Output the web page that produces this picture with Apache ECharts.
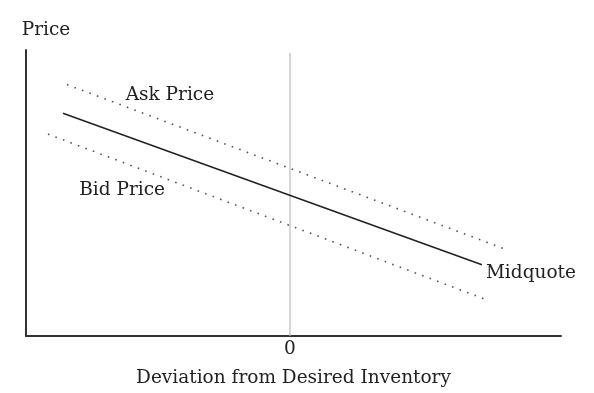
<!DOCTYPE html>
<html><head><meta charset="utf-8">
<script src="https://cdn.jsdelivr.net/npm/echarts@6/dist/echarts.min.js"></script>
<style>html,body{margin:0;padding:0;background:#fff}#c{width:594px;height:393px}</style>
</head><body><div id="c"></div>
<script>
// Data (arbitrary units; schematic chart)
const midquote = [[-86, 77.9], [72.7, 24.9]];
const askPrice = [[-84.5, 87.9], [82, 30.2]];
const bidPrice = [[-91.7, 70.6], [74.6, 12.6]];
const zeroLine = [[0, 0], [0, 99]];
const xTickLabels = [0];
const labelAsk = {name: 'Ask Price', coord: [-45.5, 84.1]};
const labelBid = {name: 'Bid Price', coord: [-63.6, 50.9]};

const FONT = 'DejaVu Serif';
const FS = 18.5;
const chart = echarts.init(document.getElementById('c'), null, {renderer: 'canvas'});
function textPoint(lbl) {
  return {
    symbol: 'circle', symbolSize: 1,
    itemStyle: {color: 'rgba(0,0,0,0)'},
    data: [{coord: lbl.coord, value: lbl.name, name: lbl.name}],
    label: {show: true, position: 'inside', formatter: lbl.name, color: '#222', fontFamily: FONT, fontSize: FS}
  };
}
chart.setOption({
  animation: false,
  grid: {left: 26, right: 33, top: 50, bottom: 54},
  xAxis: {
    type: 'value', min: -100, max: 102.65,
    name: 'Deviation from Desired Inventory', nameLocation: 'middle', nameGap: 33,
    nameTextStyle: {color: '#222', fontFamily: FONT, fontSize: FS},
    axisLine: {onZero: false, lineStyle: {color: '#333', width: 2}},
    axisTick: {show: false},
    splitLine: {show: false},
    axisLabel: {customValues: xTickLabels, color: '#222', fontFamily: FONT, fontSize: FS, margin: 4}
  },
  yAxis: {
    type: 'value', min: 0, max: 100,
    name: 'Price', nameLocation: 'end', nameGap: 10,
    nameTextStyle: {color: '#222', fontFamily: FONT, fontSize: FS, align: 'center', padding: [0, 0, 0, 40]},
    axisLine: {show: true, onZero: false, lineStyle: {color: '#333', width: 2}},
    axisTick: {show: false}, axisLabel: {show: false}, splitLine: {show: false}
  },
  series: [
    {type: 'line', data: zeroLine, symbol: 'none', lineStyle: {color: '#bbb', width: 1.2}, silent: true},
    {type: 'line', data: askPrice, symbol: 'none', lineStyle: {color: '#555', width: 1.6, type: [1.6, 6.4]},
     markPoint: textPoint(labelAsk)},
    {type: 'line', data: bidPrice, symbol: 'none', lineStyle: {color: '#555', width: 1.6, type: [1.6, 6.4]},
     markPoint: textPoint(labelBid)},
    {type: 'line', data: midquote, symbol: 'none', lineStyle: {color: '#222', width: 1.6},
     endLabel: {show: true, formatter: 'Midquote', color: '#222', fontFamily: FONT, fontSize: FS, distance: 4, offset: [0, 8]}}
  ]
});
</script></body></html>
